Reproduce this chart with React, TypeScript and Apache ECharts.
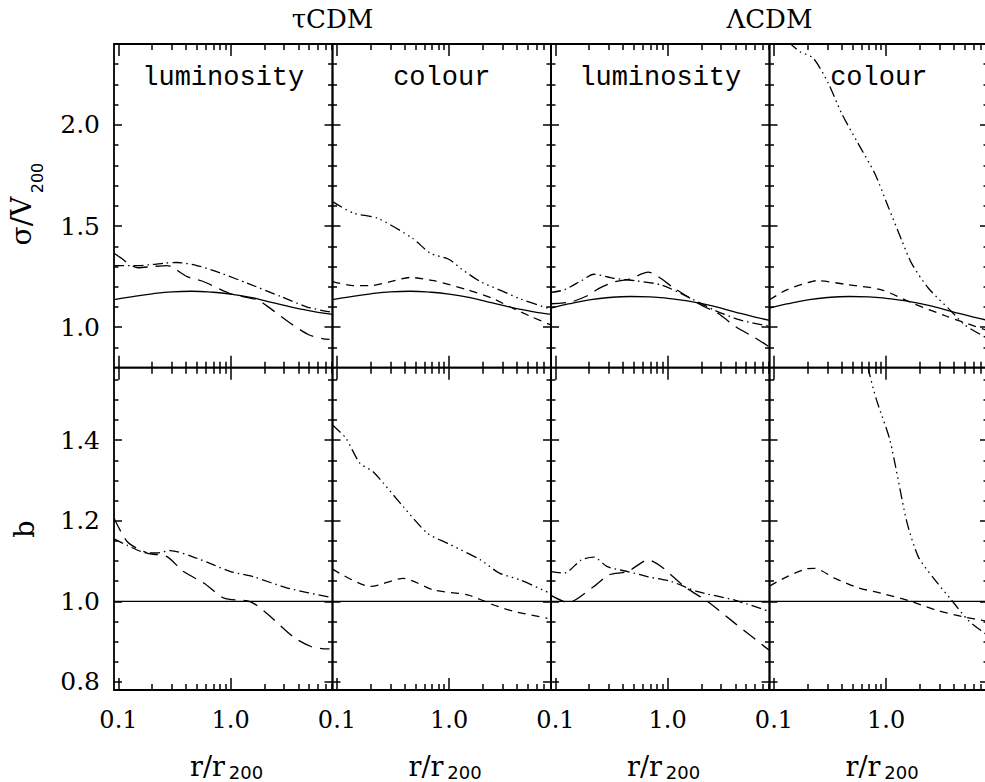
import React, { useEffect, useRef } from "react";
import * as echarts from "echarts";

// ---------- axis definitions ----------
const rMin = 0.0913;
const rMax = 8.075;
const rMajorTicks = [0.1, 1.0];
const rMinorTicks = [0.2, 0.3, 0.4, 0.5, 0.6, 0.7, 0.8, 0.9, 2, 3, 4, 5, 6, 7, 8];

const sigmaRange = [0.8, 2.4];
const sigmaMajorTicks = [1.0, 1.5, 2.0];
const sigmaMinorTicks = [0.9, 1.1, 1.2, 1.3, 1.4, 1.6, 1.7, 1.8, 1.9, 2.1, 2.2, 2.3];

const biasRange = [0.78, 1.58];
const biasMajorTicks = [0.8, 1.0, 1.2, 1.4];
const biasMinorTicks = [0.85, 0.9, 0.95, 1.05, 1.1, 1.15, 1.25, 1.3, 1.35, 1.45, 1.5, 1.55];

const modelTitles = ["τCDM", "ΛCDM"];
const panelLabels = ["luminosity", "colour", "luminosity", "colour"];

// ---------- data: [r/r200, value] ----------
const tauSigmaModel = [[0.0913, 1.136], [0.13, 1.15], [0.2, 1.165], [0.3, 1.175], [0.45, 1.178], [0.7, 1.173], [1.0, 1.164], [1.5, 1.148], [2.0, 1.132], [3.0, 1.108], [4.2, 1.09], [6.0, 1.074], [8.075, 1.064]];
const lcdmSigmaModel = [[0.0913, 1.095], [0.13, 1.115], [0.2, 1.135], [0.3, 1.147], [0.47, 1.152], [0.7, 1.15], [1.0, 1.143], [1.5, 1.13], [2.6, 1.103], [4.0, 1.075], [6.0, 1.05], [8.075, 1.034]];

const tauSigmaLumLong = [[0.0913, 1.366], [0.11, 1.335], [0.125, 1.31], [0.15, 1.294], [0.2, 1.3], [0.27, 1.305], [0.3, 1.298], [0.41, 1.25], [0.57, 1.226], [1.0, 1.165], [1.73, 1.136], [2.13, 1.103], [3.4, 1.02], [4.96, 0.963], [6.7, 0.943], [7.6, 0.94]];
const tauSigmaLumDashDot = [[0.0913, 1.305], [0.15, 1.305], [0.2, 1.31], [0.26, 1.317], [0.33, 1.32], [0.5, 1.305], [0.81, 1.268], [1.4, 1.218], [2.8, 1.152], [4.8, 1.1], [7.8, 1.075]];
const tauSigmaColShort = [[0.0913, 1.226], [0.14, 1.206], [0.2, 1.206], [0.3, 1.225], [0.45, 1.246], [0.73, 1.23], [1.46, 1.185], [2.4, 1.144], [3.5, 1.1], [5.5, 1.05], [8.0, 1.012]];
const tauSigmaColDots = [[0.0913, 1.621], [0.14, 1.564], [0.23, 1.539], [0.47, 1.44], [0.68, 1.366], [1.0, 1.335], [1.27, 1.29], [1.9, 1.225], [2.8, 1.185], [4.3, 1.14], [8.0, 1.09]];

const lcdmSigmaLumLong = [[0.0913, 1.116], [0.14, 1.126], [0.2, 1.16], [0.24, 1.19], [0.34, 1.225], [0.45, 1.237], [0.67, 1.272], [1.15, 1.192], [1.98, 1.11], [2.8, 1.069], [4.1, 1.0], [5.8, 0.953], [8.0, 0.904]];
const lcdmSigmaLumDashDot = [[0.0913, 1.172], [0.12, 1.185], [0.17, 1.23], [0.22, 1.262], [0.33, 1.242], [0.53, 1.229], [0.88, 1.209], [1.5, 1.151], [2.6, 1.085], [4.4, 1.036], [8.0, 1.005]];
const lcdmSigmaColShort = [[0.0913, 1.136], [0.13, 1.185], [0.2, 1.22], [0.24, 1.23], [0.46, 1.21], [0.91, 1.185], [1.7, 1.12], [3.5, 1.053], [7.6, 0.988], [8.075, 0.985]];
const lcdmSigmaColDots = [[0.135, 2.41], [0.17, 2.362], [0.224, 2.33], [0.305, 2.206], [0.4, 2.058], [0.56, 1.91], [0.79, 1.761], [1.04, 1.597], [1.37, 1.432], [1.68, 1.317], [2.37, 1.194], [3.82, 1.078], [5.0, 1.012], [7.83, 0.947], [8.075, 0.944]];

const biasUnity = [[0.0913, 1.0], [8.075, 1.0]];

const tauBiasLumLong = [[0.0913, 1.207], [0.12, 1.148], [0.18, 1.12], [0.27, 1.111], [0.38, 1.074], [0.58, 1.045], [0.87, 1.008], [1.5, 0.999], [2.1, 0.97], [3.6, 0.912], [5.2, 0.888], [7.1, 0.882], [7.6, 0.882]];
const tauBiasLumDashDot = [[0.0913, 1.155], [0.12, 1.139], [0.18, 1.12], [0.22, 1.12], [0.29, 1.126], [0.5, 1.107], [1.0, 1.074], [1.6, 1.061], [3.2, 1.033], [7.8, 1.01]];
const tauBiasColShort = [[0.0913, 1.08], [0.2, 1.037], [0.39, 1.057], [0.73, 1.028], [1.46, 1.016], [2.5, 0.991], [3.8, 0.975], [7.5, 0.958]];
const tauBiasColDots = [[0.0913, 1.438], [0.12, 1.405], [0.16, 1.343], [0.21, 1.322], [0.26, 1.293], [0.39, 1.235], [0.64, 1.169], [0.97, 1.144], [1.9, 1.103], [2.8, 1.07], [4.3, 1.053], [7.9, 1.02]];

const lcdmBiasLumLong = [[0.0913, 1.015], [0.13, 0.997], [0.22, 1.037], [0.3, 1.066], [0.44, 1.074], [0.67, 1.103], [0.88, 1.086], [1.41, 1.037], [2.28, 0.999], [3.96, 0.946], [8.0, 0.879]];
const lcdmBiasLumDashDot = [[0.0913, 1.074], [0.12, 1.07], [0.17, 1.103], [0.22, 1.11], [0.29, 1.086], [0.44, 1.074], [0.67, 1.061], [1.08, 1.049], [1.86, 1.024], [3.96, 1.003], [8.0, 0.975]];
const lcdmBiasColShort = [[0.0913, 1.038], [0.13, 1.061], [0.19, 1.08], [0.23, 1.082], [0.35, 1.057], [0.56, 1.034], [0.91, 1.02], [1.58, 1.002], [2.74, 0.979], [4.8, 0.962], [8.075, 0.95]];
const lcdmBiasColDots = [[0.62, 1.66], [0.69, 1.58], [0.82, 1.5], [1.08, 1.4], [1.52, 1.2], [1.93, 1.111], [2.6, 1.06], [3.82, 1.003], [5.38, 0.953], [7.6, 0.92], [8.075, 0.915]];

type Curve = { data: number[][]; dash: string };
const panelCurves: Curve[][] = [
  [{ data: tauSigmaModel, dash: "solid" }, { data: tauSigmaLumLong, dash: "long" }, { data: tauSigmaLumDashDot, dash: "dashdot" }],
  [{ data: tauSigmaModel, dash: "solid" }, { data: tauSigmaColShort, dash: "short" }, { data: tauSigmaColDots, dash: "dash3dot" }],
  [{ data: lcdmSigmaModel, dash: "solid" }, { data: lcdmSigmaLumLong, dash: "long" }, { data: lcdmSigmaLumDashDot, dash: "dashdot" }],
  [{ data: lcdmSigmaModel, dash: "solid" }, { data: lcdmSigmaColShort, dash: "short" }, { data: lcdmSigmaColDots, dash: "dash3dot" }],
  [{ data: biasUnity, dash: "solid" }, { data: tauBiasLumLong, dash: "long" }, { data: tauBiasLumDashDot, dash: "dashdot" }],
  [{ data: biasUnity, dash: "solid" }, { data: tauBiasColShort, dash: "short" }, { data: tauBiasColDots, dash: "dash3dot" }],
  [{ data: biasUnity, dash: "solid" }, { data: lcdmBiasLumLong, dash: "long" }, { data: lcdmBiasLumDashDot, dash: "dashdot" }],
  [{ data: biasUnity, dash: "solid" }, { data: lcdmBiasColShort, dash: "short" }, { data: lcdmBiasColDots, dash: "dash3dot" }],
];

// ---------- layout / style ----------
const GRID_LEFT = 114;
const GRID_PITCH = 218.5;
const ROW_TOP = [44, 367.7];
const ROW_HEIGHT = [323.7, 322.3];
const SERIF = "DejaVu Serif";
const SANS = "DejaVu Sans";
const MONO = "Liberation Mono";

const DASH: Record<string, any> = {
  solid: "solid",
  long: [15, 8],
  short: [8, 6],
  dashdot: [10, 4, 1.5, 4],
  dash3dot: [11, 4, 1.5, 4, 1.5, 4, 1.5, 4],
};

function buildOption() {
  const grid: any[] = [];
  const xAxis: any[] = [];
  const yAxis: any[] = [];
  const series: any[] = [];
  const tickLine = { color: "#000", width: 1.5 };

  for (let row = 0; row < 2; row++) {
    const yr = row === 0 ? sigmaRange : biasRange;
    const yMaj = row === 0 ? sigmaMajorTicks : biasMajorTicks;
    const yMin = row === 0 ? sigmaMinorTicks : biasMinorTicks;
    for (let col = 0; col < 4; col++) {
      const gi = row * 4 + col;
      grid.push({
        left: GRID_LEFT + col * GRID_PITCH,
        top: ROW_TOP[row],
        width: GRID_PITCH,
        height: ROW_HEIGHT[row],
        show: true,
        borderColor: "#000",
        borderWidth: 1.8,
        backgroundColor: "rgba(0,0,0,0)",
        containLabel: false,
        outerBoundsMode: "none",
      });
      const xBase = {
        type: "log",
        logBase: 10,
        gridIndex: gi,
        min: rMin,
        max: rMax,
        splitLine: { show: false },
        minorTick: { show: false },
        minorSplitLine: { show: false },
        axisLine: { show: false, onZero: false },
        silent: true,
      };
      const mkX = (position: string, ticks: number[], length: number, labels: boolean) => ({
        ...xBase,
        position,
        axisTick: { show: true, inside: true, length, customValues: ticks, lineStyle: tickLine },
        axisLabel: labels
          ? { show: true, customValues: ticks, formatter: (v: number) => Number(v).toFixed(1), margin: 18, color: "#000", fontFamily: SERIF, fontSize: 24 }
          : { show: false },
      });
      xAxis.push(mkX("bottom", rMajorTicks, 12, row === 1));
      xAxis.push(mkX("bottom", rMinorTicks, 6, false));
      xAxis.push(mkX("top", rMajorTicks, 12, false));
      xAxis.push(mkX("top", rMinorTicks, 6, false));

      const yBase = {
        type: "value",
        gridIndex: gi,
        min: yr[0],
        max: yr[1],
        splitLine: { show: false },
        minorTick: { show: false },
        axisLine: { show: false, onZero: false },
        silent: true,
      };
      const mkY = (position: string, ticks: number[], length: number, labels: boolean) => ({
        ...yBase,
        position,
        axisTick: { show: true, inside: true, length, customValues: ticks, lineStyle: tickLine },
        axisLabel: labels
          ? { show: true, customValues: ticks, formatter: (v: number) => Number(v).toFixed(1), margin: 14, color: "#000", fontFamily: SERIF, fontSize: 25 }
          : { show: false },
      });
      yAxis.push(mkY("left", yMaj, 8, col === 0));
      yAxis.push(mkY("left", yMin, 4.5, false));
      yAxis.push(mkY("right", yMaj, 8, false));
      yAxis.push(mkY("right", yMin, 4.5, false));

      panelCurves[gi].forEach((c) => {
        series.push({
          type: "line",
          xAxisIndex: gi * 4,
          yAxisIndex: gi * 4,
          data: c.data,
          symbol: "none",
          showSymbol: false,
          smooth: c.dash === "solid" ? 0.5 : 0.25,
          clip: true,
          silent: true,
          lineStyle: { color: "#000", width: 1.3, type: DASH[c.dash] },
          z: 3,
        });
      });
    }
  }

  const graphic: any[] = [];
  const txt = (x: number, y: number, text: string, fontSize: number, fontFamily: string, rotation = 0) => ({
    type: "text",
    x,
    y,
    rotation,
    silent: true,
    z: 10,
    style: {
      text,
      fontSize,
      fontFamily,
      fill: "#000",
      align: "center",
      textAlign: "center",
      verticalAlign: "middle",
      textVerticalAlign: "middle",
    },
  });
  // model titles
  graphic.push(txt(GRID_LEFT + GRID_PITCH, 19, modelTitles[0], 26, SERIF));
  graphic.push(txt(GRID_LEFT + 3 * GRID_PITCH, 19, modelTitles[1], 26, SERIF));
  // panel labels
  panelLabels.forEach((lab, col) => {
    graphic.push(txt(GRID_LEFT + col * GRID_PITCH + GRID_PITCH / 2, 78, lab, 27, MONO));
  });
  // y titles
  graphic.push(txt(21, 221, "σ/V", 28, SERIF, Math.PI / 2));
  graphic.push(txt(37, 178, "200", 16, SANS, Math.PI / 2));
  graphic.push(txt(24, 529, "b", 27, SERIF, Math.PI / 2));
  // x titles
  for (let col = 0; col < 4; col++) {
    const L = GRID_LEFT + col * GRID_PITCH;
    graphic.push(txt(L + 93.5, 766, "r/r", 27, SERIF));
    graphic.push(txt(L + 132, 772, "200", 18, SANS));
  }

  return {
    animation: false,
    backgroundColor: "#fff",
    grid,
    xAxis,
    yAxis,
    series,
    graphic,
  };
}

export default function App() {
  const ref = useRef<HTMLDivElement>(null);
  useEffect(() => {
    if (!ref.current) return;
    const chart = echarts.init(ref.current, null, { renderer: "svg" });
    chart.setOption(buildOption() as any);
    return () => chart.dispose();
  }, []);
  return (
    <div
      ref={ref}
      style={{ position: "fixed", left: 0, top: 0, width: 985, height: 782, background: "#fff" }}
    />
  );
}
